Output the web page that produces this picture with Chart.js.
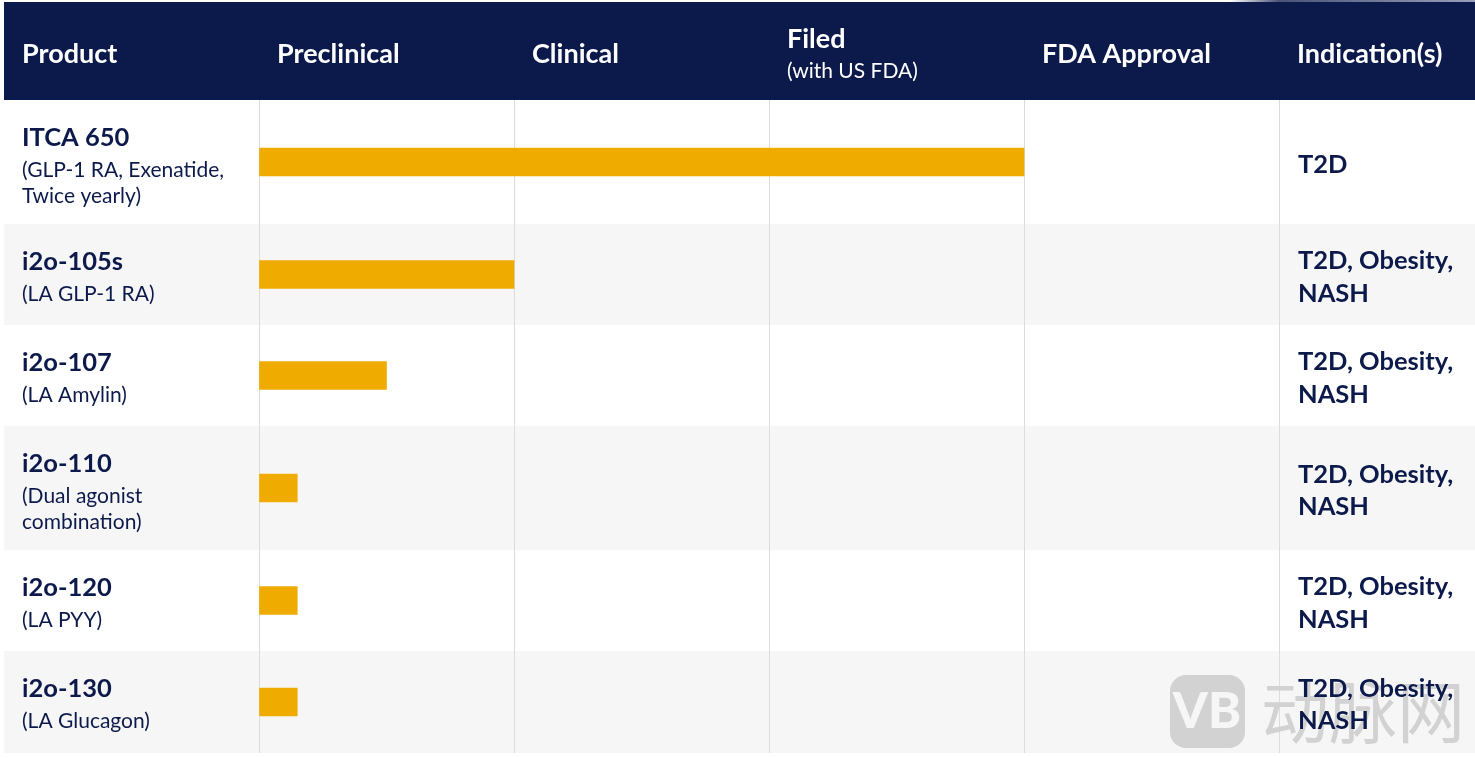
<!DOCTYPE html>
<html>
<head>
<meta charset="utf-8">
<style>
html, body { margin: 0; padding: 0; background: #fff; overflow: hidden; }
#wrap { position: relative; width: 1475px; height: 758px; }
canvas { display: block; }
</style>
<script src="https://cdn.jsdelivr.net/npm/chart.js@4/dist/chart.umd.min.js"></script>
</head>
<body>
<div id="wrap"><canvas id="chart" width="1475" height="758"></canvas></div>
<script>
const stages = ["Preclinical", "Clinical", "Filed", "FDA Approval"];
const products = ["ITCA 650", "i2o-105s", "i2o-107", "i2o-110", "i2o-120", "i2o-130"];
const details = [
    ["(GLP-1 RA, Exenatide,", "Twice yearly)"],
    ["(LA GLP-1 RA)"],
    ["(LA Amylin)"],
    ["(Dual agonist", "combination)"],
    ["(LA PYY)"],
    ["(LA Glucagon)"],
];
const progress = [3, 1, 0.5, 0.15, 0.15, 0.15];
const indications = [
    ["T2D"],
    ["T2D, Obesity,", "NASH"],
    ["T2D, Obesity,", "NASH"],
    ["T2D, Obesity,", "NASH"],
    ["T2D, Obesity,", "NASH"],
    ["T2D, Obesity,", "NASH"],
];

const NAVY = "#0c1a4b";
const FONT = "Lato, 'Noto Sans', sans-serif";
const TOP = 100;
const BOTTOM = 753;
const LEFT = 259;
const RIGHT = 1279;

// rows grow with the number of text lines in the product cell
const rowHeights = [124, 101, 101, 124, 101, 102];
const rowTops = [];
rowHeights.forEach((h, i) => rowTops.push(i ? rowTops[i - 1] + rowHeights[i - 1] : 0));
const rowCentres = rowHeights.map((h, i) => rowTops[i] + h / 2);

function text(ctx, str, x, y, font, color) {
    ctx.font = font;
    ctx.fillStyle = color;
    ctx.textAlign = "left";
    ctx.textBaseline = "middle";
    ctx.fillText(str, x, y);
}

const tablePlugin = {
    id: "table",
    beforeDraw(chart) {
        const ctx = chart.ctx;
        ctx.save();
        ctx.fillStyle = "#fff";
        ctx.fillRect(0, 0, 1475, 758);
        ctx.fillStyle = NAVY;
        ctx.fillRect(4, 2, 1471, TOP - 2);
        const g = ctx.createLinearGradient(1230, 0, 1475, 0);
        g.addColorStop(0, "#ffffff");
        g.addColorStop(0.2, "#4a5478");
        g.addColorStop(1, "#9aa0b8");
        ctx.fillStyle = g;
        ctx.fillRect(1230, 0, 245, 2);
        rowHeights.forEach((h, i) => {
            if (i % 2 === 1) {
                ctx.fillStyle = "#f6f6f6";
                ctx.fillRect(4, TOP + rowTops[i], 1471, h);
            }
        });
        ctx.restore();
    },
    afterDraw(chart) {
        const ctx = chart.ctx;
        const x = chart.scales.x;
        ctx.save();

        const head = "700 27px " + FONT;
        text(ctx, "Product", 22, 54, head, "#fff");
        stages.forEach((s, i) => {
            if (s === "Filed") {
                text(ctx, s, x.getPixelForValue(i) + 18, 39, head, "#fff");
                text(ctx, "(with US FDA)", x.getPixelForValue(i) + 18, 71, "400 21px " + FONT, "#fff");
            } else {
                text(ctx, s, x.getPixelForValue(i) + 18, 54, head, "#fff");
            }
        });
        text(ctx, "Indication(s)", x.getPixelForValue(4) + 18, 54, head, "#fff");

        products.forEach((p, i) => {
            const top = TOP + rowTops[i];
            text(ctx, p, 22, top + 38, "700 25.5px " + FONT, NAVY);
            details[i].forEach((line, j) => {
                text(ctx, line, 22, top + 70 + j * 26, "400 21px " + FONT, NAVY);
            });
            const mid = TOP + rowCentres[i] + 3;
            indications[i].forEach((line, j) => {
                const off = (j - (indications[i].length - 1) / 2) * 32.5;
                text(ctx, line, 1298, mid + off, "700 25.5px " + FONT, NAVY);
            });
        });

        // watermark over the last row, the cell text stays dark through it
        ctx.globalCompositeOperation = "darken";
        ctx.fillStyle = "#d2d2d2";
        ctx.beginPath();
        ctx.roundRect(1170, 675, 75, 73, 16);
        ctx.fill();
        ctx.textBaseline = "middle";
        ctx.textAlign = "left";
        ctx.font = "400 68px 'Noto Sans CJK SC', sans-serif";
        ctx.fillText("动脉网", 1261, 712);
        ctx.globalCompositeOperation = "source-over";
        ctx.textAlign = "center";
        ctx.font = "900 50px Lato, sans-serif";
        ctx.fillStyle = "#f6f6f6";
        ctx.fillText("VB", 1207, 712);
        ctx.restore();
    },
};

new Chart(document.getElementById("chart"), {
    type: "bar",
    data: {
        datasets: [{
            data: progress.map((v, i) => ({ x: v, y: rowCentres[i] })),
            backgroundColor: "#f0ab00",
            borderWidth: 0,
            barThickness: 28,
        }],
    },
    options: {
        indexAxis: "y",
        responsive: false,
        animation: false,
        devicePixelRatio: 1,
        layout: { padding: { left: LEFT, right: 1475 - RIGHT, top: TOP, bottom: 758 - BOTTOM } },
        plugins: { legend: { display: false }, tooltip: { enabled: false } },
        scales: {
            x: {
                type: "linear",
                min: 0,
                max: 4,
                ticks: { display: false, stepSize: 1 },
                grid: { color: "#dcdcdc", lineWidth: 1, drawTicks: false },
                border: { display: false },
            },
            y: {
                type: "linear",
                reverse: true,
                offset: false,
                min: 0,
                max: BOTTOM - TOP,
                display: false,
            },
        },
    },
    plugins: [tablePlugin],
});
</script>
</body>
</html>
